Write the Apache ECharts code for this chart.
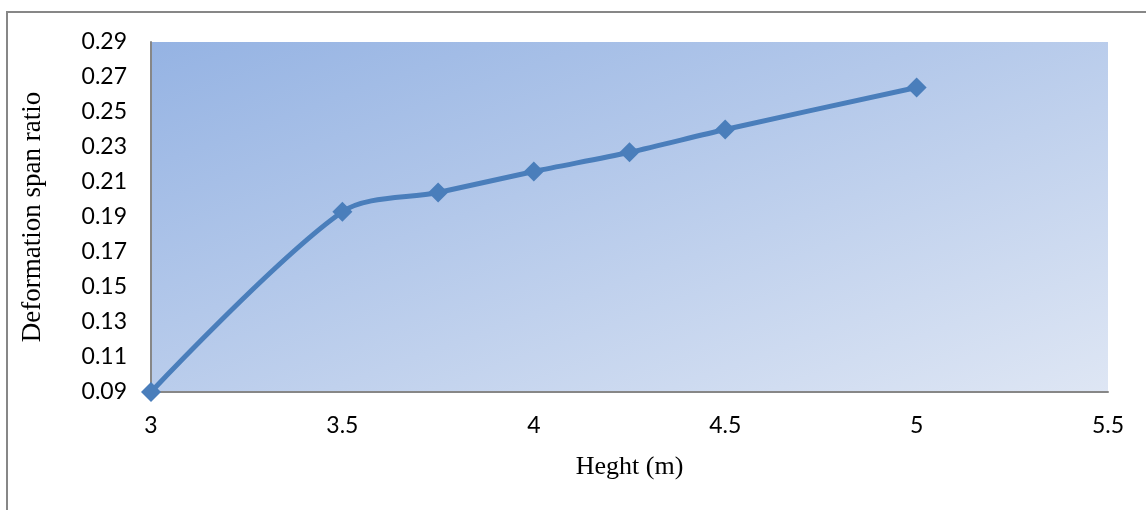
<!DOCTYPE html>
<html>
<head>
<meta charset="utf-8">
<script src="https://cdn.jsdelivr.net/npm/echarts@6/dist/echarts.min.js"></script>
<style>
  html, body { margin: 0; padding: 0; background: #ffffff; }
  #chart { width: 1146px; height: 510px; }
</style>
</head>
<body>
<div id="chart"></div>
<script>
// Storey height (m) and the resulting deformation / span ratio
const heights = [3, 3.5, 3.75, 4, 4.25, 4.5, 5];
const ratios = [0.09, 0.193, 0.204, 0.216, 0.227, 0.24, 0.264];

const xAxisName = 'Heght (m)';
const yAxisName = 'Deformation span ratio';

const tickFont = 'Lato, "Open Sans", sans-serif';
const nameFont = '"Liberation Serif", "DejaVu Serif", serif';

const chart = echarts.init(document.getElementById('chart'));

chart.setOption({
  animation: false,
  backgroundColor: '#ffffff',
  graphic: [{
    type: 'rect',
    shape: { x: 7, y: 12, width: 1160, height: 520 },
    style: { fill: 'none', stroke: '#878787', lineWidth: 2 },
    silent: true
  }],
  grid: {
    left: 151, top: 42, right: 38, bottom: 118,
    show: true,
    borderWidth: 0,
    // diagonal shading, darkest at the top-left corner
    backgroundColor: {
      type: 'linear', x: 0, y: 0, x2: 0.236, y2: 1.764,
      colorStops: [
        { offset: 0, color: '#95b3e3' },
        { offset: 1, color: '#dee6f4' }
      ]
    }
  },
  xAxis: {
    type: 'value',
    min: 3, max: 5.5, interval: 0.5,
    name: xAxisName,
    nameLocation: 'middle',
    nameGap: 62,
    nameTextStyle: { fontFamily: nameFont, fontSize: 26, color: '#000000' },
    axisLine: { show: true, lineStyle: { color: '#878787', width: 2 } },
    axisTick: { show: false },
    splitLine: { show: false },
    axisLabel: {
      margin: 22,
      fontFamily: tickFont, fontSize: 23, color: '#000000',
      formatter: v => String(Math.round(v * 10) / 10)
    }
  },
  yAxis: {
    type: 'value',
    min: 0.09, max: 0.29, interval: 0.01,
    name: yAxisName,
    nameLocation: 'middle',
    nameGap: 105,
    nameRotate: 90,
    nameTextStyle: { fontFamily: nameFont, fontSize: 27, color: '#000000' },
    axisLine: { show: true, lineStyle: { color: '#878787', width: 2 } },
    axisTick: { show: false },
    splitLine: { show: false },
    axisLabel: {
      margin: 24,
      fontFamily: tickFont, fontSize: 23, color: '#000000',
      // labels every 0.02, starting at 0.09
      formatter: v => (Math.round(v * 100) % 2 === 1 ? v.toFixed(2) : '')
    }
  },
  series: [{
    type: 'line',
    data: heights.map((h, i) => [h, ratios[i]]),
    smooth: 0.3,
    symbol: 'diamond',
    symbolSize: 20,
    itemStyle: { color: '#4a7ebb' },
    lineStyle: { color: '#4a7ebb', width: 5 }
  }]
});
</script>
</body>
</html>
